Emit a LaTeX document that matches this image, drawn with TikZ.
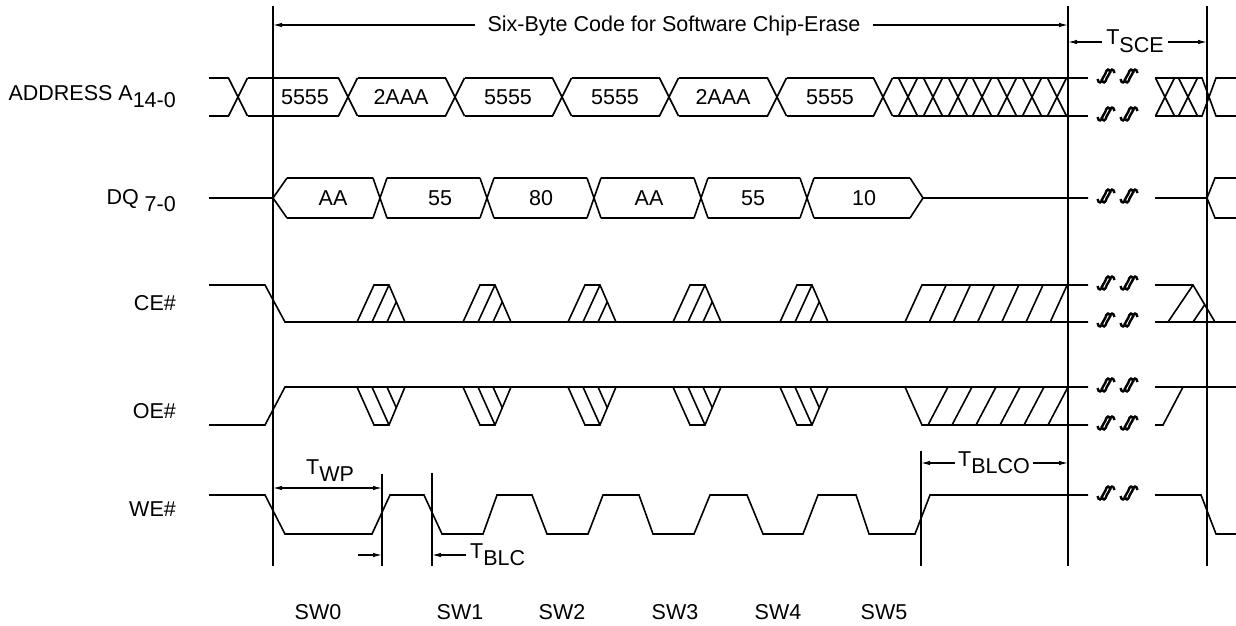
\documentclass[tikz,border=0pt]{standalone}
\usepackage{fontspec}
\setmainfont{Liberation Sans}
\usetikzlibrary{calc,arrows.meta}

\newcommand{\lsub}[1]{\raisebox{-0.35em}{#1}}

\tikzset{
  sig/.style={line width=1.6pt},
  dim/.style={line width=1.2pt,-{Latex[length=9pt,width=4.5pt]}},
  dimb/.style={line width=1.2pt,{Latex[length=9pt,width=4.5pt]}-{Latex[length=9pt,width=4.5pt]}},
  lbl/.style={anchor=base east,inner sep=0pt},
  brk/.pic={
    \foreach \d in {-2,2}
      \draw[line width=2.4pt] (\d-6.5,3) .. controls (\d-5.5,8) and (\d-2.5,7.5) .. (\d-1.2,2)
        -- (\d+1.2,-2) .. controls (\d+2.5,-7.5) and (\d+5.5,-8) .. (\d+6.5,-3);
  }
}

\begin{document}
\begin{tikzpicture}[x=1pt,y=-1pt,font=\fontsize{21.5}{25}\selectfont]
    \useasboundingbox (0,0) rectangle (1236,626);
    % markers
    \foreach \x/\t in {273/6,1068/6,1207/6,382/474,432/473,921/451}
        \draw[sig] (\x,\t) -- (\x,566);
    \coordinate (s0) at (273,25);
    \coordinate (s1) at (1068,25);
    \coordinate (e0) at (1068,42);
    \coordinate (e1) at (1207,42);
    \coordinate (p0) at (273,488);
    \coordinate (p1) at (382,488);
    \coordinate (q0) at (358,555);
    \coordinate (q1) at (382,555);
    \coordinate (q2) at (432,555);
    \coordinate (o0) at (921,463);
    \coordinate (o1) at (1068,463);

    % labels
    \node[lbl] (addr) at (176,100) {ADDRESS A\lsub{14-0}};
    \node[lbl] (dq) at (176,204) {DQ \lsub{7-0}};
    \node[lbl] (ce) at (176,310) {CE\#};
    \node[lbl] (oe) at (176,418) {OE\#};
    \node[lbl] (we) at (176,516) {WE\#};
    \foreach \x [count=\i from 0] in {318,460,562,675,778,884}
        \node[anchor=base] (sw\i) at (\x,619) {SW\i};

    % timing arrows
    \node[anchor=base,inner xsep=12pt] (six) at (674,32) {Six-Byte Code for Software Chip-Erase};
    \draw[dim] (six.west|-s0) -- (s0);
    \draw[dim] (six.east|-s1) -- (s1);
    \node[anchor=base,inner xsep=4pt] (tsce) at (1135,45) {T\lsub{SCE}};
    \draw[dim] (tsce.west|-e0) -- (e0);
    \draw[dim] (tsce.east|-e1) -- (e1);
    \node[anchor=base] (twp) at (330,474) {T\lsub{WP}};
    \draw[dimb] (p0) -- (p1);
    \draw[dim] (q0) -- (q1);
    \node[anchor=base west,inner xsep=4pt] (tblc) at (466,558) {T\lsub{BLC}};
    \draw[dim] (tblc.west|-q2) -- (q2);
    \node[anchor=base,inner xsep=3pt] (tblco) at (994,466) {T\lsub{BLCO}};
    \draw[dim] (tblco.west|-o0) -- (o0);
    \draw[dim] (tblco.east|-o1) -- (o1);

    % address bus
    \foreach \a/\b in {199.5/238,238/348,348/455,455/562,562/669,669/777,777/883}
        \draw[sig] (\a+9.5,78) -- (\b-9.5,78) (\a+9.5,116) -- (\b-9.5,116);
    \foreach \t in {238,348,455,562,669,777,883,908,933,958,982,1007,1032,1057,1165,1188}
        \draw[sig] (\t-9.5,78) -- (\t+9.5,116) (\t-9.5,116) -- (\t+9.5,78);
    \draw[sig] (892.5,78) -- (1088,78) (892.5,116) -- (1088,116);
    \draw[sig] (1155,78) -- (1202,78) -- (1216,116) -- (1236,116);
    \draw[sig] (1155,116) -- (1202,116) -- (1216,78) -- (1236,78);
    \foreach \x/\v [count=\i] in {305/5555,401/2AAA,508/5555,615/5555,723/2AAA,830/5555}
        \node (a\i) at (\x,97) {\v};

    % data bus
    \draw[sig] (209,198) -- (273,198) (287,178) -- (273,198) -- (287,218);
    \foreach \t in {380,487,594,701,807}
        \draw[sig] (\t-7,178) -- (\t+7,218) (\t-7,218) -- (\t+7,178);
    \foreach \a/\b in {280/380,380/487,487/594,594/701,701/807,807/917}
        \draw[sig] (\a+7,178) -- (\b-7,178) (\a+7,218) -- (\b-7,218);
    \draw[sig] (910,178) -- (923,198) -- (910,218) (923,198) -- (1088,198);
    \draw[sig] (1155,198) -- (1207,198) (1236,178) -- (1215,178) -- (1207,198) -- (1215,218) -- (1236,218);
    \foreach \x/\v [count=\i] in {333/AA,440/55,541/80,649/AA,753/55,864/10}
        \node (d\i) at (\x,198) {\v};

    % CE#
    \draw[sig] (209,285) -- (265,285) -- (285,322) -- (1088,322);
    \foreach \p in {381,487,592,697,804}
    {
        \begin{scope}
            \clip (\p-24,322) -- (\p-7,285) -- (\p+8,285) -- (\p+24,322) -- cycle;
            \foreach \s in {-9,6} \draw[sig] (\p+\s,322) -- ++(17,-37);
        \end{scope}
        \draw[sig] (\p-24,322) -- (\p-7,285) -- (\p+8,285) -- (\p+24,322);
    }
    \draw[sig] (905,322) -- (922,285) -- (1088,285);
    \foreach \k in {1,...,6} \draw[sig] (905+24.2*\k,322) -- ++(17,-37);
    \draw[sig] (1155,285) -- (1193,285) -- (1215,322) (1155,322) -- (1236,322);
    \draw[sig] (1168,322) -- (1193,285) (1193,322) -- (1204.7,304.7);

    % OE#
    \draw[sig] (209,425) -- (265,425) -- (285,387) -- (1088,387);
    \foreach \p in {381,487,592,697,804}
    {
        \begin{scope}
            \clip (\p-24,387) -- (\p-7,425) -- (\p+8,425) -- (\p+24,387) -- cycle;
            \foreach \s in {-9,6} \draw[sig] (\p+\s,387) -- ++(17,38);
        \end{scope}
        \draw[sig] (\p-24,387) -- (\p-7,425) -- (\p+8,425) -- (\p+24,387);
    }
    \draw[sig] (905,387) -- (922,425) -- (1088,425);
    \foreach \k in {0,...,5} \draw[sig] (928+24*\k,425) -- ++(20,-38);
    \draw[sig] (1155,387) -- (1236,387) (1155,425) -- (1163,425) -- (1183,387);

    % WE#
    \draw[sig] (209,495) -- (265,495) -- (285,534) -- (372,534) -- (390,495) -- (424,495) -- (442,534)
        -- (483,534) -- (497,495) -- (532,495) -- (547,534) -- (588,534) -- (603,495) -- (639,495)
        -- (653,534) -- (694,534) -- (710,495) -- (747,495) -- (763,534) -- (803,534) -- (818,495)
        -- (856,495) -- (869,534) -- (915,534) -- (930,495) -- (1088,495);
    \draw[sig] (1155,495) -- (1201,495) -- (1216,534) -- (1236,534);

    % breaks
    \foreach \y in {78,116,198,285,322,387,425,495}
    {
        \pic at (1106,\y-2) {brk};
        \pic at (1129,\y-2) {brk};
    }
\end{tikzpicture}
\end{document}
